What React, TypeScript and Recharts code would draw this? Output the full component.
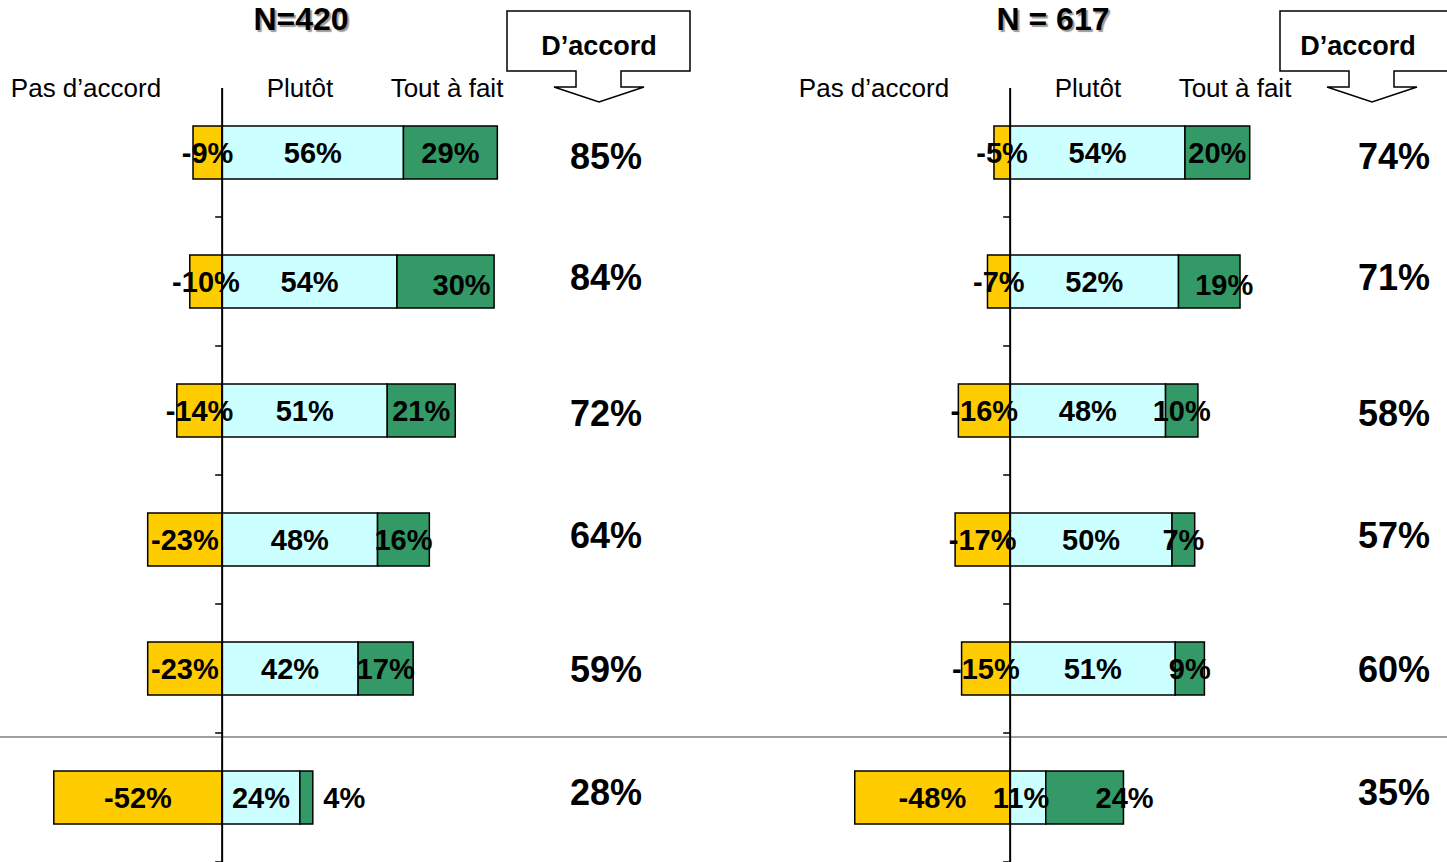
import React from 'react';
import { BarChart, Bar, XAxis, YAxis, ReferenceLine, LabelList } from 'recharts';

// 6 questions (no labels shown on the chart)
const rows = ['q1', 'q2', 'q3', 'q4', 'q5', 'q6'];
const seriesNames = ['Pas d’accord', 'Plutôt', 'Tout à fait'];

// N=420
const leftNeg = [-9, -10, -14, -23, -23, -52];
const leftPlutot = [56, 54, 51, 48, 42, 24];
const leftTout = [29, 30, 21, 16, 17, 4];
const leftTotal = [85, 84, 72, 64, 59, 28];

// N = 617
const rightNeg = [-5, -7, -16, -17, -15, -48];
const rightPlutot = [54, 52, 48, 50, 51, 11];
const rightTout = [20, 19, 10, 7, 9, 24];
const rightTotal = [74, 71, 58, 57, 60, 35];

const YELLOW = '#FFCC00';
const CYAN = '#CCFFFF';
const GREEN = '#339966';
const FONT = 'Liberation Sans, Arial, sans-serif';

// small nudges of some labels, like in the original slide
const leftShift: Record<string, number[][]> = {
  tout: [[0, 0], [16, 3], [0, 0], [0, 0], [0, 0], [38, 0]],
};
const rightShift: Record<string, number[][]> = {
  plutot: [[0, 0], [0, 0], [0, 0], [0, 0], [0, 0], [-7, 0]],
  tout: [[0, 0], [15, 3], [0, 0], [0, 0], [0, 0], [40, 0]],
};
const totalDy = [4, -4, 3, -4, 1, -5];

const ZeroAxis = (props: any) => {
  const { x1, y1, x2, y2 } = props;
  const step = (y2 - y1) / rows.length;
  return (
    <g>
      <line x1={x1} y1={y1} x2={x2} y2={y2} stroke="#000" strokeWidth={2} />
      {rows.map((r, i) => (
        <line key={r} x1={x1 - 7} x2={x1} y1={y1 + i * step} y2={y1 + i * step} stroke="#000" strokeWidth={1.5} />
      ))}
    </g>
  );
};

const makeLabel = (shifts?: number[][]) => (props: any) => {
  const { x, y, width, height, value, index } = props;
  const s = (shifts && shifts[index]) || [0, 0];
  return (
    <text
      x={x + width / 2 + s[0]}
      y={y + height / 2 + s[1]}
      textAnchor="middle"
      dominantBaseline="central"
      fontFamily={FONT}
      fontWeight="bold"
      fontSize={29}
      fill="#000"
    >
      {value}%
    </text>
  );
};

const TotalTick = (props: any) => {
  const { x, y, payload, index } = props;
  return (
    <text
      x={x + 86}
      y={y + (totalDy[index] || 0)}
      textAnchor="middle"
      dominantBaseline="central"
      fontFamily={FONT}
      fontWeight="bold"
      fontSize={36}
      fill="#000"
    >
      {payload.value}%
    </text>
  );
};

const Callout = ({ cx, textDx = 0 }: { cx: number; textDx?: number }) => (
  <svg style={{ position: 'absolute', left: 0, top: 0, overflow: 'visible' }} width={1447} height={110}>
    <path
      d={`M${cx - 92},11 H${cx + 91} V71 H${cx + 22} V87 H${cx + 45} L${cx},102 L${cx - 45},87 H${cx - 23} V71 H${cx - 92} Z`}
      fill="#fff"
      stroke="#000"
      strokeWidth={1.5}
    />
    <text x={cx + textDx} y={46} textAnchor="middle" dominantBaseline="central" fontFamily={FONT} fontWeight="bold" fontSize={27}>
      D’accord
    </text>
  </svg>
);

interface PanelProps {
  left: number;
  title: string;
  titleDx: number;
  neg: number[];
  plutot: number[];
  tout: number[];
  total: number[];
  shifts: Record<string, number[][]>;
}

const ZERO = 222; // zero position inside each panel

const Panel: React.FC<PanelProps> = ({ left, title, titleDx, neg, plutot, tout, total, shifts }) => {
  const data = rows.map((r, i) => ({ row: r, neg: neg[i], plutot: plutot[i], tout: tout[i], total: total[i] }));
  const headStyle: React.CSSProperties = {
    position: 'absolute',
    top: 88,
    transform: 'translate(-50%, -50%)',
    fontFamily: FONT,
    fontSize: 26,
    whiteSpace: 'nowrap',
    color: '#000',
  };
  return (
    <div style={{ position: 'absolute', left, top: 0, width: 680, height: 862 }}>
      <div
        style={{
          position: 'absolute',
          left: ZERO + titleDx,
          top: 4,
          transform: 'translateX(-50%)',
          fontFamily: FONT,
          fontWeight: 'bold',
          fontSize: 32,
          lineHeight: '30px',
          whiteSpace: 'nowrap',
          textShadow: '2px 2px 1px #9a9a9a',
        }}
      >
        {title}
      </div>
      <div style={{ ...headStyle, left: ZERO - 136 }}>{seriesNames[0]}</div>
      <div style={{ ...headStyle, left: ZERO + 78 }}>{seriesNames[1]}</div>
      <div style={{ ...headStyle, left: ZERO + 225 }}>{seriesNames[2]}</div>
      <BarChart
        width={670}
        height={862}
        data={data}
        layout="vertical"
        stackOffset="sign"
        margin={{ top: 88, right: 0, bottom: 0, left: 2 }}
      >
        <XAxis type="number" domain={[-68, 92]} hide allowDataOverflow />
        <YAxis type="category" dataKey="row" hide />
        <YAxis
          yAxisId="tot"
          type="category"
          dataKey="total"
          orientation="right"
          width={150}
          axisLine={false}
          tickLine={false}
          tickSize={0}
          tickMargin={0}
          tick={<TotalTick />}
        />
        <Bar dataKey="neg" stackId="a" fill={YELLOW} stroke="#000" strokeWidth={1.5} barSize={53} isAnimationActive={false}>
          <LabelList dataKey="neg" content={makeLabel(shifts.neg)} />
        </Bar>
        <Bar dataKey="plutot" stackId="a" fill={CYAN} stroke="#000" strokeWidth={1.5} barSize={53} isAnimationActive={false}>
          <LabelList dataKey="plutot" content={makeLabel(shifts.plutot)} />
        </Bar>
        <Bar dataKey="tout" stackId="a" fill={GREEN} stroke="#000" strokeWidth={1.5} barSize={53} isAnimationActive={false}>
          <LabelList dataKey="tout" content={makeLabel(shifts.tout)} />
        </Bar>
        <ReferenceLine x={0} shape={ZeroAxis} ifOverflow="visible" />
      </BarChart>
    </div>
  );
};

export default function App() {
  return (
    <div style={{ position: 'absolute', left: 0, top: 0, width: 1447, height: 862, overflow: 'hidden', background: '#fff' }}>
      <div style={{ position: 'absolute', left: 0, top: 736, width: 1447, height: 2, background: '#a0a0a0' }} />
      <Panel left={0} title="N=420" titleDx={79} neg={leftNeg} plutot={leftPlutot} tout={leftTout} total={leftTotal} shifts={leftShift} />
      <Panel left={788} title="N = 617" titleDx={43} neg={rightNeg} plutot={rightPlutot} tout={rightTout} total={rightTotal} shifts={rightShift} />
      <Callout cx={599} />
      <Callout cx={1372} textDx={-14} />
    </div>
  );
}
